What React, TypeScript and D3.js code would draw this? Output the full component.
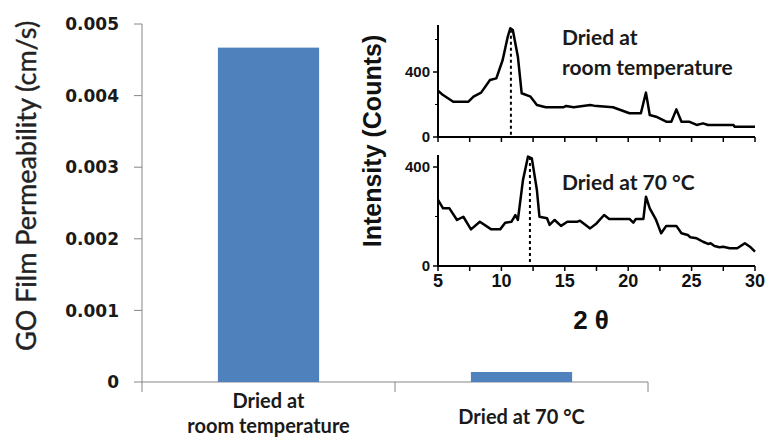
import { useEffect, useRef } from "react";
import * as d3 from "d3";

// main bar chart
const categories = ["room", "hot"];
const categoryLabels = [["Dried at", "room temperature"], ["Dried at 70 °C"]];
const permeability = [0.00467, 0.00014];
const permTicks = [0, 0.001, 0.002, 0.003, 0.004, 0.005];

// inset XRD, dried at room temperature
const roomTheta = [5.0, 5.4, 6.2, 7.4, 7.8, 8.4, 9.1, 9.6, 10.1, 10.5, 10.7, 10.9, 11.3, 11.6, 12.3, 12.8, 13.5, 14.9, 15.1, 15.7, 17.0, 17.3, 18.8, 20.1, 21.0, 21.4, 21.7, 22.2, 23.0, 23.4, 23.8, 24.2, 24.8, 25.4, 25.9, 26.3, 28.3, 28.4, 30.0];
const roomCounts = [285, 258, 217, 217, 248, 273, 351, 361, 474, 617, 669, 658, 494, 269, 248, 197, 183, 183, 191, 183, 197, 193, 183, 146, 146, 273, 135, 125, 94, 94, 170, 94, 94, 74, 84, 74, 74, 63, 63];

// inset XRD, dried at 70 C
const hotTheta = [5.0, 5.4, 5.9, 6.5, 7.0, 7.6, 8.3, 9.2, 9.9, 10.3, 10.8, 11.1, 11.3, 11.7, 12.1, 12.4, 12.8, 13.0, 13.6, 13.8, 14.2, 14.7, 15.2, 16.0, 16.2, 17.0, 17.5, 18.1, 18.5, 20.1, 20.4, 20.6, 21.2, 21.4, 21.7, 22.2, 22.6, 23.0, 23.8, 24.2, 24.7, 24.9, 25.4, 25.9, 26.3, 26.5, 26.8, 27.2, 27.5, 28.0, 28.6, 29.2, 29.6, 30.0];
const hotCounts = [267, 233, 233, 186, 199, 148, 179, 148, 148, 175, 179, 206, 186, 347, 442, 435, 307, 199, 193, 166, 186, 162, 179, 179, 183, 152, 172, 206, 190, 190, 175, 190, 190, 280, 233, 186, 132, 162, 162, 132, 125, 116, 112, 98, 89, 92, 81, 76, 78, 72, 72, 92, 78, 58];

const peakTheta = [10.75, 12.25];
const peakCounts = [660, 440];
const thetaTicks = [5, 10, 15, 20, 25, 30];
const thetaMinorTicks = [7.5, 12.5, 17.5, 22.5, 27.5];
const countTicks = [0, 400];
const countMinorTicks = [200, 600];

const App = () => {
  const svgRef = useRef<SVGSVGElement>(null);

  useEffect(() => {
    const svg = d3.select(svgRef.current);
    svg.selectAll("*").remove();

    ////////////////////// main chart //////////////////////
    const y = d3.scaleLinear().domain([0, 0.005]).range([382, 24]);
    const x = d3.scaleBand().domain(categories).range([142, 648]).padding(0);
    const axisColor = "#868686";

    svg.append("line")
      .attr("x1", 142).attr("x2", 142)
      .attr("y1", y(0.005)).attr("y2", y(0))
      .attr("stroke", axisColor);

    svg.selectAll(".ytick")
      .data(permTicks)
      .enter()
      .append("line")
      .attr("x1", 134).attr("x2", 142)
      .attr("y1", (d) => y(d)).attr("y2", (d) => y(d))
      .attr("stroke", axisColor);

    svg.selectAll(".ylabel")
      .data(permTicks)
      .enter()
      .append("text")
      .attr("x", 119)
      .attr("y", (d) => y(d))
      .attr("dy", "0.36em")
      .attr("text-anchor", "end")
      .style("font-family", "'DejaVu Sans', sans-serif")
      .style("font-weight", "bold")
      .style("font-size", "17px")
      .attr("fill", "#1a1a1a")
      .text((d) => (d === 0 ? "0" : d3.format(".3f")(d)));

    svg.append("line")
      .attr("x1", 142).attr("x2", 648)
      .attr("y1", y(0)).attr("y2", y(0))
      .attr("stroke", axisColor);

    const catEdges = categories.map((c) => x(c) as number).concat([648]);
    svg.selectAll(".xtick")
      .data(catEdges)
      .enter()
      .append("line")
      .attr("x1", (d) => d).attr("x2", (d) => d)
      .attr("y1", y(0)).attr("y2", y(0) + 10)
      .attr("stroke", axisColor);

    const barW = x.bandwidth() * 0.4;
    svg.selectAll(".bar")
      .data(permeability)
      .enter()
      .append("rect")
      .attr("x", (d, i) => (x(categories[i]) as number) + (x.bandwidth() - barW) / 2)
      .attr("y", (d) => y(d))
      .attr("width", barW)
      .attr("height", (d) => y(0) - y(d))
      .attr("fill", "#4f81bd");

    categoryLabels.forEach((lines, i) => {
      const cx = (x(categories[i]) as number) + x.bandwidth() / 2;
      const t = svg.append("text")
        .attr("text-anchor", "middle")
        .style("font-family", "Lato, sans-serif")
        .style("font-weight", "bold")
        .style("font-size", "20px")
        .attr("fill", "#1a1a1a");
      const base = lines.length === 1 ? 424 : 408;
      lines.forEach((l, j) => {
        t.append("tspan").attr("x", cx).attr("y", base + j * 25).text(l);
      });
    });

    svg.append("text")
      .attr("transform", "translate(36,186) rotate(-90)")
      .attr("text-anchor", "middle")
      .style("font-family", "Lato, sans-serif")
      .style("font-size", "27px")
      .attr("fill", "#222")
      .attr("stroke", "#222")
      .attr("stroke-width", 0.4)
      .text("GO Film Permeability (cm/s)");

    ////////////////////// inset //////////////////////
    const xi = d3.scaleLinear().domain([5, 30]).range([438, 755]);
    const yTop = d3.scaleLinear().domain([0, 400]).range([137, 72]);
    const yBot = d3.scaleLinear().domain([0, 400]).range([266, 167]);

    const panels = [
      { yS: yTop, top: 25, theta: roomTheta, counts: roomCounts, labels: false },
      { yS: yBot, top: 155, theta: hotTheta, counts: hotCounts, labels: true },
    ];

    panels.forEach((p, pi) => {
      const g = svg.append("g");
      const y0 = p.yS(0);

      g.append("line")
        .attr("x1", xi(5)).attr("x2", xi(5))
        .attr("y1", p.top).attr("y2", y0)
        .attr("stroke", "#000").attr("stroke-width", 2);
      g.append("line")
        .attr("x1", xi(5) - 1).attr("x2", xi(30))
        .attr("y1", y0).attr("y2", y0)
        .attr("stroke", "#000").attr("stroke-width", 2);

      g.selectAll(".ct")
        .data(countTicks)
        .enter()
        .append("line")
        .attr("x1", xi(5) - 5).attr("x2", xi(5))
        .attr("y1", (d) => p.yS(d)).attr("y2", (d) => p.yS(d))
        .attr("stroke", "#000").attr("stroke-width", 1.5);
      g.selectAll(".cm")
        .data(countMinorTicks.filter((d) => p.yS(d) > p.top))
        .enter()
        .append("line")
        .attr("x1", xi(5) - 3).attr("x2", xi(5))
        .attr("y1", (d) => p.yS(d)).attr("y2", (d) => p.yS(d))
        .attr("stroke", "#000").attr("stroke-width", 1);
      g.selectAll(".cl")
        .data(countTicks)
        .enter()
        .append("text")
        .attr("x", 430)
        .attr("y", (d) => p.yS(d))
        .attr("dy", "0.36em")
        .attr("text-anchor", "end")
        .style("font-family", "'Liberation Sans', Arial, sans-serif")
        .style("font-weight", "bold")
        .style("font-size", "15px")
        .attr("fill", "#111")
        .text((d) => d);

      g.selectAll(".tt")
        .data(thetaTicks.concat(thetaMinorTicks))
        .enter()
        .append("line")
        .attr("x1", (d) => xi(d)).attr("x2", (d) => xi(d))
        .attr("y1", y0).attr("y2", y0 + 5)
        .attr("stroke", "#000").attr("stroke-width", 1.5);

      if (p.labels) {
        g.selectAll(".tl")
          .data(thetaTicks)
          .enter()
          .append("text")
          .attr("x", (d) => xi(d))
          .attr("y", 287)
          .attr("text-anchor", "middle")
          .style("font-family", "'Liberation Sans', Arial, sans-serif")
          .style("font-weight", "bold")
          .style("font-size", "18px")
          .attr("fill", "#111")
          .text((d) => d);
      }

      const line = d3.line<number>()
        .x((d, i) => xi(p.theta[i]))
        .y((d) => p.yS(d));
      g.append("path")
        .attr("d", line(p.counts))
        .attr("fill", "none")
        .attr("stroke", "#000")
        .attr("stroke-width", 2.5)
        .attr("stroke-linejoin", "round");

      g.append("line")
        .attr("x1", xi(peakTheta[pi])).attr("x2", xi(peakTheta[pi]))
        .attr("y1", p.yS(peakCounts[pi])).attr("y2", y0)
        .attr("stroke", "#000").attr("stroke-width", 2)
        .attr("stroke-dasharray", "3,3");
    });

    const insetText = (lines: string[], x0: number, y0: number) => {
      const t = svg.append("text")
        .style("font-family", "Lato, sans-serif")
        .style("font-weight", "bold")
        .style("font-size", "21px")
        .attr("fill", "#1a1a1a");
      lines.forEach((l, j) => {
        t.append("tspan").attr("x", x0).attr("y", y0 + j * 30).text(l);
      });
    };
    insetText(["Dried at", "room temperature"], 562, 45);
    insetText(["Dried at 70 °C"], 562, 190);

    svg.append("text")
      .attr("transform", "translate(381,141) rotate(-90)")
      .attr("text-anchor", "middle")
      .style("font-family", "'Liberation Sans', Arial, sans-serif")
      .style("font-weight", "bold")
      .style("font-size", "25px")
      .attr("fill", "#111")
      .text("Intensity (Counts)");

    svg.append("text")
      .attr("x", 591)
      .attr("y", 329)
      .attr("text-anchor", "middle")
      .style("font-family", "'Liberation Sans', Arial, sans-serif")
      .style("font-weight", "bold")
      .style("font-size", "26px")
      .attr("fill", "#111")
      .text("2 θ");
  }, []);

  return (
    <svg
      ref={svgRef}
      width={766}
      height={441}
      style={{ position: "absolute", left: 0, top: 0, background: "#fff" }}
    ></svg>
  );
};

export default App;
